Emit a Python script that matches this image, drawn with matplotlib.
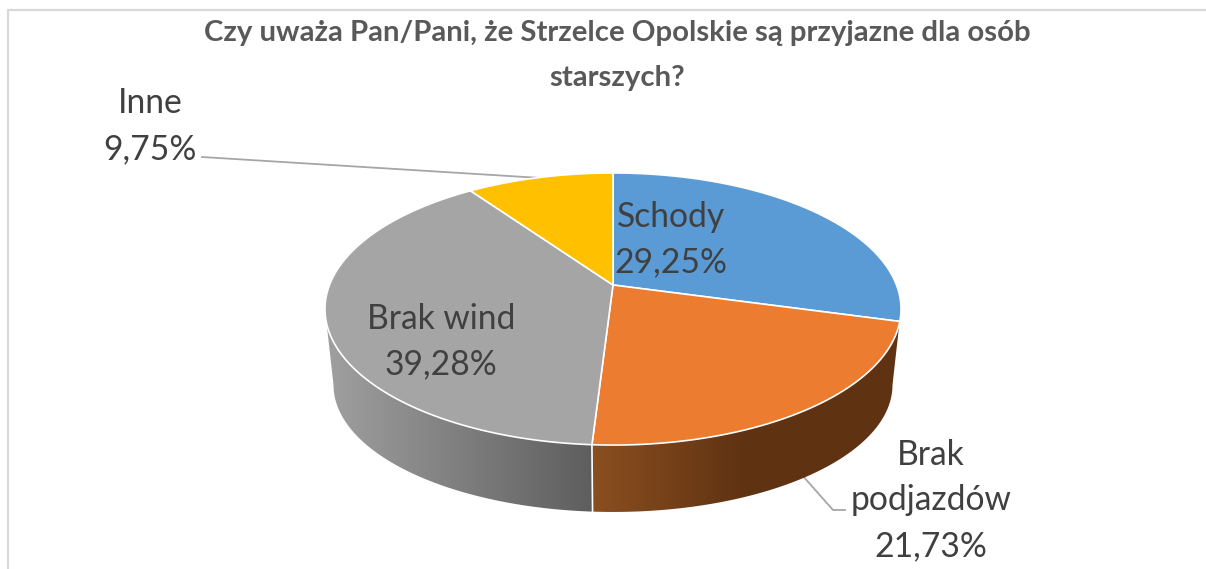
import numpy as np
import matplotlib
matplotlib.use("Agg")
import matplotlib.pyplot as plt
from matplotlib.patches import Polygon
from matplotlib.colors import LinearSegmentedColormap

categories = ["Schody", "Brak\npodjazdów", "Brak wind", "Inne"]
values = [29.25, 21.73, 39.28, 9.75]
value_labels = ["29,25%", "21,73%", "39,28%", "9,75%"]
colors = ["#5B9BD5", "#EB7C30", "#A5A5A5", "#FFC000"]
title = "Czy uważa Pan/Pani, że Strzelce Opolskie są przyjazne dla osób\nstarszych?"

TXT = "#404040"
plt.rcParams["font.family"] = ["Lato", "DejaVu Sans"]

fig = plt.figure(figsize=(12.06, 5.69), dpi=100, facecolor="white")
ax = fig.add_axes([0, 0, 1, 1])
ax.set_xlim(0, 1206)
ax.set_ylim(569, 0)
ax.axis("off")

# perspective view of a circular pie: top face and (smaller, farther) bottom face
CX, CY, A, B, K = 613, 285, 283.5, 131.8, 0.1765
CY2, A2, B2 = 362.6, 275.1, 123.0


def project(frac, cy=CY, a=A, b=B):
    """frac: clockwise fraction of the circle starting at 12 o'clock."""
    t = 2 * np.pi * np.asarray(frac)
    u, v = np.sin(t), np.cos(t)
    w = 1 + K * v
    return CX + a * u / w, cy - b * v / w


edges = np.cumsum([0] + values) / sum(values)
WALL_START = (np.pi / 2 + np.arcsin(K)) / (2 * np.pi)   # right tangent point
WALL_END = 1 - WALL_START                               # left tangent point


def wall_poly(f0, f1):
    f = np.linspace(f0, f1, 200)
    x, y = project(f)
    x2, y2 = project(f, CY2, A2, B2)
    return np.column_stack([np.r_[x, x2[::-1]], np.r_[y, y2[::-1]]])


# side walls with horizontal gradients (left colour -> right colour)
walls = [
    (WALL_START, edges[2], ["#8A4F20", "#5F3212", "#5F3212"], (592, 901)),
    (edges[2], WALL_END, ["#A0A0A0", "#5E5E5E"], (325, 592)),
]
for f0, f1, cols, (xa, xb) in walls:
    cmap = LinearSegmentedColormap.from_list("w", cols)
    grad = np.linspace(0, 1, 256)[None, :]
    im = ax.imshow(grad, extent=(xa, xb, 560, 300), cmap=cmap, aspect="auto", zorder=1)
    im.set_clip_path(Polygon(wall_poly(f0, f1), closed=True, transform=ax.transData))
ax.set_xlim(0, 1206)
ax.set_ylim(569, 0)

# wall separator
sx, sy = project(edges[2])
sx2, sy2 = project(edges[2], CY2, A2, B2)
ax.plot([sx, sx2], [sy, sy2], color="white", lw=1.2, zorder=2)

# top faces
for i, col in enumerate(colors):
    f = np.linspace(edges[i], edges[i + 1], 200)
    x, y = project(f)
    pts = np.column_stack([np.r_[CX, x], np.r_[CY, y]])
    ax.add_patch(Polygon(pts, closed=True, facecolor=col, edgecolor="white", lw=1.2,
                         joinstyle="round", zorder=3))

# leader lines
ax.plot([202, 541], [157, 178], color="#A6A6A6", lw=1.3, zorder=2)
ax.plot([802, 833, 845], [475, 510, 510], color="#A6A6A6", lw=1.3, zorder=0.5)

# frame
ax.plot([8, 8, 1206], [569, 10, 10], color="#D9D9D9", lw=1.6, zorder=0.2)

# title
ax.text(617, 55.5, title, ha="center", va="center", fontsize=21.2, fontweight="bold",
        color="#595959", linespacing=1.89)

# data labels
label_pos = [(671, 239.5), (931, 500.5), (441, 341.5), (150, 126)]
for cat, lab, (x, y) in zip(categories, value_labels, label_pos):
    ax.text(x, y, f"{cat}\n{lab}", ha="center", va="center", fontsize=24.2, color=TXT,
            linespacing=1.53, zorder=5)

fig.savefig("out.png", dpi=100)
